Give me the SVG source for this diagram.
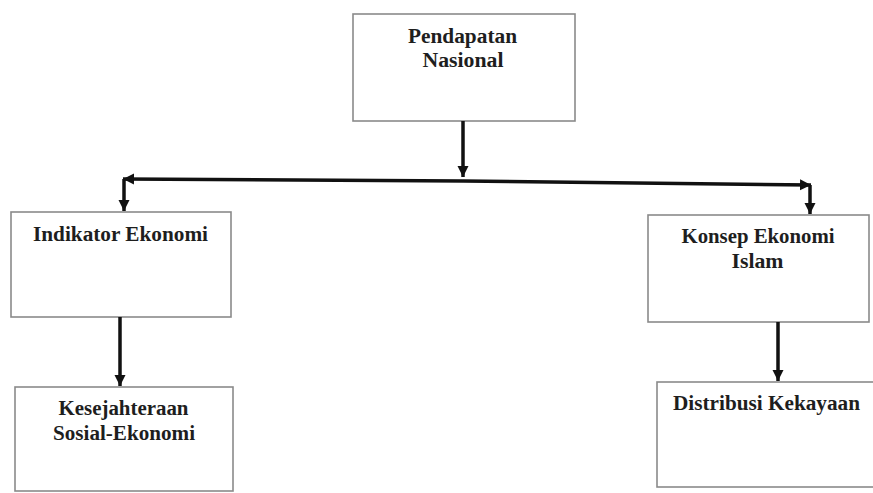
<svg xmlns="http://www.w3.org/2000/svg" width="873" height="493" viewBox="0 0 873 493">
<style>
.box{fill:#fff;stroke:#8a8a8a;stroke-width:1.6}
.t{font-family:'Liberation Serif','Times New Roman','DejaVu Serif',serif;font-weight:bold;font-size:20px;fill:#1e1e1e;text-anchor:middle}
.c{stroke:#111;stroke-width:3.5;fill:none;marker-end:url(#ah)}
</style>
<defs>
<marker id="ah" markerUnits="userSpaceOnUse" markerWidth="12" markerHeight="12" refX="11" refY="6" orient="auto">
<path d="M0,0.5 L11,6 L0,11.5 z" fill="#111"/>
</marker>
</defs>
<rect width="873" height="493" fill="#fff"/>
<g id="n-pendapatan">
<rect class="box" x="353" y="14" width="222" height="107"/>
<text class="t" x="462.5" y="43" textLength="109" lengthAdjust="spacingAndGlyphs">Pendapatan</text>
<text class="t" x="463" y="67" textLength="81" lengthAdjust="spacingAndGlyphs">Nasional</text>
</g>
<g id="n-indikator">
<rect class="box" x="11" y="212" width="220" height="105"/>
<text class="t" x="120.5" y="241" textLength="175" lengthAdjust="spacingAndGlyphs">Indikator Ekonomi</text>
</g>
<g id="n-konsep">
<rect class="box" x="648" y="215" width="221" height="107"/>
<text class="t" x="758" y="243" textLength="153" lengthAdjust="spacingAndGlyphs">Konsep Ekonomi</text>
<text class="t" x="757.5" y="268" textLength="52" lengthAdjust="spacingAndGlyphs">Islam</text>
</g>
<g id="n-kesejahteraan">
<rect class="box" x="15" y="387" width="218" height="104"/>
<text class="t" x="123.5" y="415" textLength="130" lengthAdjust="spacingAndGlyphs">Kesejahteraan</text>
<text class="t" x="124" y="440" textLength="142" lengthAdjust="spacingAndGlyphs">Sosial-Ekonomi</text>
</g>
<g id="n-distribusi">
<rect class="box" x="657" y="382" width="230" height="105"/>
<text class="t" x="766.5" y="410" textLength="187" lengthAdjust="spacingAndGlyphs">Distribusi Kekayaan</text>
</g>
<g id="connectors">
<path class="c" d="M463,121 L463,177"/>
<path class="c" d="M463,181 L123,179"/>
<path class="c" d="M124,179 L124,211"/>
<path class="c" d="M463,181 L811,185"/>
<path class="c" d="M810,185 L810,214"/>
<path class="c" d="M120,317 L120,386"/>
<path class="c" d="M778,322 L778,381"/>
</g>
</svg>
